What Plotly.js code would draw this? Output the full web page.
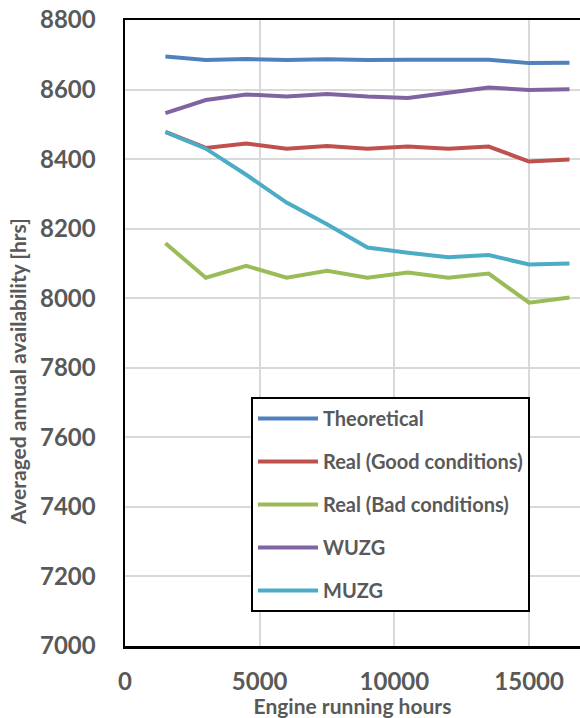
<!DOCTYPE html>
<html><head><meta charset="utf-8">
<script src="https://cdn.plot.ly/plotly-3.0.1.min.js"></script>
<style>html,body{margin:0;padding:0;background:#fff}#c{width:580px;height:718px}</style>
</head><body><div id="c"></div>
<script>
const hours = [1500,3000,4500,6000,7500,9000,10500,12000,13500,15000,16500];
const theoretical = [8695,8685,8688,8685,8687,8685,8686,8685,8686,8676,8677];
const realGood = [8478,8432,8445,8430,8438,8430,8436,8430,8436,8393,8399];
const realBad = [8158,8059,8093,8059,8079,8059,8074,8059,8071,7987,8002];
const wuzg = [8532,8570,8586,8580,8587,8580,8576,8591,8606,8599,8601];
const muzg = [8478,8430,8355,8275,8213,8146,8131,8118,8124,8097,8100];
const xTicks = [0,5000,10000,15000];
const yTicks = [7000,7200,7400,7600,7800,8000,8200,8400,8600,8800];

const series = [
  {name:'Theoretical', y:theoretical, color:'#4F81BD'},
  {name:'Real (Good conditions)', y:realGood, color:'#C0504D'},
  {name:'Real (Bad conditions)', y:realBad, color:'#9BBB59'},
  {name:'WUZG', y:wuzg, color:'#8064A2'},
  {name:'MUZG', y:muzg, color:'#4BACC6'}
];
const traces = series.map((s,i)=>({
  type:'scatter', mode:'lines', x:hours, y:s.y, name:s.name,
  line:{color:s.color, width:4}, legendgroup:'g'+i
}));

const fontFam = 'Lato, "Liberation Sans", sans-serif';
const grey = '#595959';
const pad = '\u00a0'.repeat(15);
const layout = {
  width:580, height:718,
  margin:{l:125, r:0, t:20, b:72},
  paper_bgcolor:'#fff', plot_bgcolor:'#fff',
  showlegend:true,
  font:{family:fontFam, color:grey},
  xaxis:{
    range:[0,16890],
    tickvals:xTicks, ticktext:xTicks.map(v=>'<b>'+v+'</b>'), ticks:'', ticklen:0,
    tickfont:{size:24, color:grey, family:fontFam}, ticklabelstandoff:13,
    showgrid:true, gridcolor:'#d9d9d9', gridwidth:2, zeroline:false,
    showline:true, linecolor:'#000', linewidth:2.5, mirror:true,
    title:{text:'<b>Engine running hours</b>', font:{size:21, color:grey, family:fontFam}, standoff:17}
  },
  yaxis:{
    range:[7000,8800], tickvals:yTicks, ticktext:yTicks.map(v=>'<b>'+v+'</b>'), ticks:'', ticklen:0,
    showgrid:true, gridcolor:'#d9d9d9', gridwidth:2, zeroline:false,
    showline:true, linecolor:'#000', linewidth:2.5,
    tickfont:{size:24, color:grey, family:fontFam}, ticklabelstandoff:22,
    title:{text:'<b>Averaged annual availability [hrs]'+pad+'</b>', font:{size:21, color:grey, family:fontFam}, standoff:8}
  },
  legend:{
    x:(251-125)/455, y:(646-397)/626, xanchor:'left', yanchor:'top',
    bgcolor:'#fff', bordercolor:'#000', borderwidth:2,
    font:{size:20, color:grey, family:fontFam, weight:'bold'},
    traceorder:'grouped', tracegroupgap:14, itemwidth:60
  }
};
Plotly.newPlot('c', traces, layout, {staticPlot:true});
</script></body></html>
